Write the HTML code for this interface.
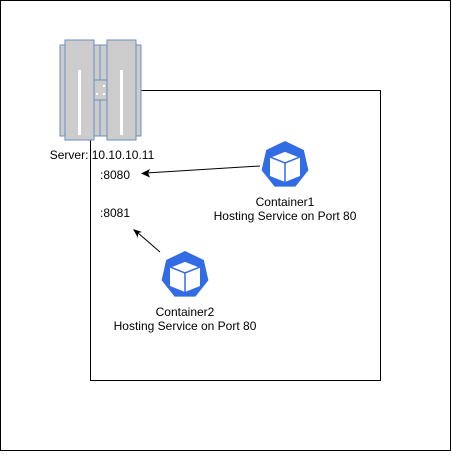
<!DOCTYPE html>
<html><head><style>body{margin:0;background:#fff}</style></head><body>
<svg width="451" height="451" xmlns="http://www.w3.org/2000/svg" font-family="Liberation Sans, sans-serif" font-size="12">
<rect x="0.5" y="0.5" width="450" height="450" fill="#fff" stroke="#000"/>
<rect x="90.5" y="90.5" width="290" height="290" fill="none" stroke="#000"/>
<g fill="#cccccc" stroke="#6c8ebf" stroke-width="1">
<rect x="60" y="45" width="6" height="91"/>
<rect x="135" y="45" width="6" height="91"/>
<rect x="93" y="45" width="14" height="91"/>
<line x1="100" y1="45" x2="100" y2="136"/>
<rect x="93" y="80" width="14" height="20"/>
<rect x="65" y="40" width="29" height="100"/>
<rect x="107" y="40" width="29" height="100"/>
</g>
<rect x="78" y="70" width="3" height="65" fill="#fff"/>
<rect x="120" y="70" width="3" height="65" fill="#fff"/>
<rect x="96" y="93" width="2" height="2" fill="#fff"/><rect x="103" y="93" width="2" height="2" fill="#fff"/><rect x="103" y="85" width="2" height="2" fill="#fff"/>
<text x="102" y="159" text-anchor="middle" fill="#000">Server: 10.10.10.11</text>
<text x="100" y="179">:8080</text>
<text x="100" y="217">:8081</text>
<defs>
<g id="k">
<polygon points="0,-24 18.8,-15 23.4,5.3 10.4,21.6 -10.4,21.6 -23.4,5.3 -18.8,-15" fill="#326ce5"/>
<polygon points="0,-14 15,-8 15,11 0,17 -15,11 -15,-8" fill="#fff"/>
<polygon points="0,-14 15,-8 0,-2 -15,-8" fill="#fff" stroke="#326ce5" stroke-width="1.5"/>
<line x1="0" y1="-2" x2="0" y2="17" stroke="#326ce5" stroke-width="1.5"/>
</g>
</defs>
<use href="#k" x="285" y="165"/>
<use href="#k" x="185" y="275"/>
<text x="285" y="206" text-anchor="middle">Container1</text>
<text x="285" y="220" text-anchor="middle">Hosting Service on Port 80</text>
<text x="185" y="316" text-anchor="middle">Container2</text>
<text x="185" y="330" text-anchor="middle">Hosting Service on Port 80</text>
<g stroke="#000" stroke-width="1">
<line x1="260" y1="166" x2="146" y2="173"/>
<line x1="160" y1="252" x2="138" y2="233"/>
</g>
<polygon points="141,173.5 150,169 148,173 150,177.5" fill="#000"/>
<polygon points="133,229 142,232 138,233 138,238" fill="#000"/>
</svg>
</body></html>
